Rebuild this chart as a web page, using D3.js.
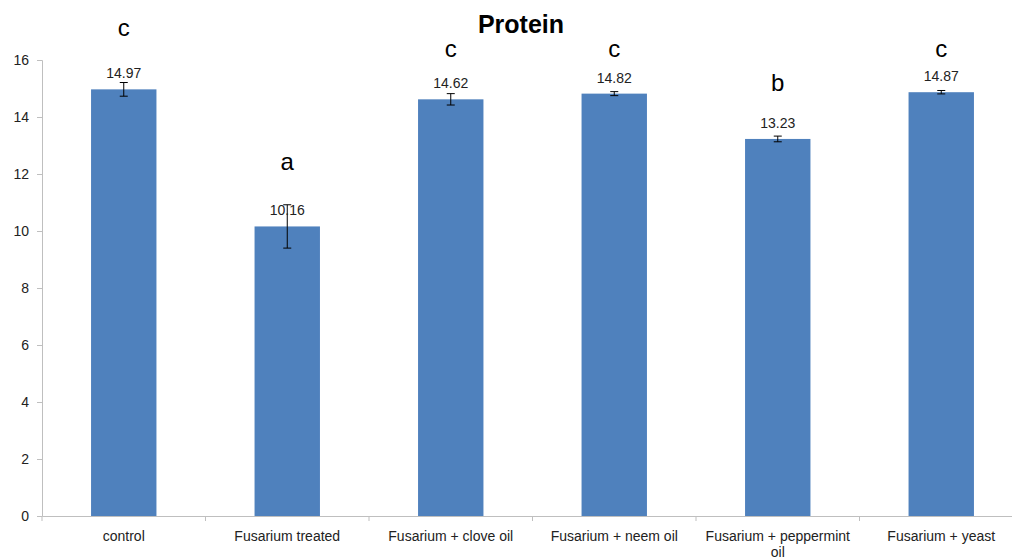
<!DOCTYPE html>
<html><head><meta charset="utf-8">
<script src="https://cdn.jsdelivr.net/npm/d3@7"></script>
<style>body{margin:0;background:#fff}svg{display:block}text{font-family:"Liberation Sans",Arial,sans-serif}</style>
</head><body><svg id="c" width="1012" height="560"></svg>
<script>
const categories = ["control","Fusarium treated","Fusarium + clove oil","Fusarium + neem oil","Fusarium + peppermint oil","Fusarium + yeast"];
const values = [14.97,10.16,14.62,14.82,13.23,14.87];
const errors = [0.24,0.76,0.2,0.07,0.1,0.06];
const letters = ["c","a","c","c","b","c"];
const letterLevels = [17.1,12.4,16.35,16.35,15.15,16.35];
const yTicks = [0,2,4,6,8,10,12,14,16];

(function(){
const svg = d3.select("#c");
const mLeft = 42, mRight = 1023, mTop = 60, mBottom = 516;
const x = d3.scaleBand().domain(categories).range([mLeft,mRight]).paddingInner(0.6).paddingOuter(0.3);
const xb = d3.scaleBand().domain(categories).range([mLeft,mRight]);
const y = d3.scaleLinear().domain([0,16]).range([mBottom,mTop]);

// title
svg.append("text").attr("x",521).attr("y",33).attr("text-anchor","middle")
  .attr("font-size",25).attr("font-weight","bold").attr("fill","#000").text("Protein");

// y axis
const ya = svg.append("g").attr("transform",`translate(${mLeft},0)`)
  .call(d3.axisLeft(y).tickValues(yTicks).tickSize(5).tickPadding(8).tickFormat(d3.format("d")));
ya.select(".domain").attr("stroke","#bfbfbf");
ya.selectAll(".tick line").attr("stroke","#bfbfbf");
ya.selectAll(".tick text").attr("font-size",14).attr("fill","#222").attr("font-family","Liberation Sans, Arial, sans-serif");

// x axis
const xa = svg.append("g").attr("transform",`translate(0,${mBottom})`)
  .call(d3.axisBottom(xb).tickSize(0).tickFormat(""));
xa.select(".domain").attr("stroke","#bfbfbf");
svg.append("g").selectAll("line").data(categories).join("line")
  .attr("x1",d=>xb(d)).attr("x2",d=>xb(d)).attr("y1",mBottom).attr("y2",mBottom+5).attr("stroke","#bfbfbf");

// bars
svg.append("g").selectAll("rect").data(categories).join("rect")
  .attr("x",d=>x(d)).attr("width",x.bandwidth())
  .attr("y",(d,i)=>y(values[i])).attr("height",(d,i)=>y(0)-y(values[i]))
  .attr("fill","#4f81bd");

// error bars
const eg = svg.append("g").attr("stroke","#000").attr("stroke-width",1);
categories.forEach((c,i)=>{
  const cx = x(c)+x.bandwidth()/2;
  const y1 = y(values[i]+errors[i]), y2 = y(values[i]-errors[i]);
  eg.append("line").attr("x1",cx).attr("x2",cx).attr("y1",y1).attr("y2",y2);
  eg.append("line").attr("x1",cx-4).attr("x2",cx+4).attr("y1",y1).attr("y2",y1);
  eg.append("line").attr("x1",cx-4).attr("x2",cx+4).attr("y1",y2).attr("y2",y2);
});

// value labels
svg.append("g").selectAll("text").data(categories).join("text")
  .attr("x",d=>x(d)+x.bandwidth()/2).attr("y",(d,i)=>y(values[i])-11)
  .attr("text-anchor","middle").attr("font-size",14).attr("fill","#222")
  .text((d,i)=>values[i].toFixed(2));

// letters
svg.append("g").selectAll("text").data(categories).join("text")
  .attr("x",d=>x(d)+x.bandwidth()/2).attr("y",(d,i)=>y(letterLevels[i])+7)
  .attr("text-anchor","middle").attr("font-size",24).attr("fill","#000")
  .text((d,i)=>letters[i]);

// category labels with wrapping
const catG = svg.append("g");
categories.forEach(c=>{
  const cx = xb(c)+xb.bandwidth()/2;
  const t = catG.append("text").attr("x",cx).attr("y",541).attr("text-anchor","middle")
    .attr("font-size",14).attr("fill","#222");
  if (c === "Fusarium + peppermint oil") {
    t.append("tspan").attr("x",cx).attr("dy",0).text("Fusarium + peppermint");
    t.append("tspan").attr("x",cx).attr("dy",16).text("oil");
  } else t.text(c);
});
})();
</script></body></html>
